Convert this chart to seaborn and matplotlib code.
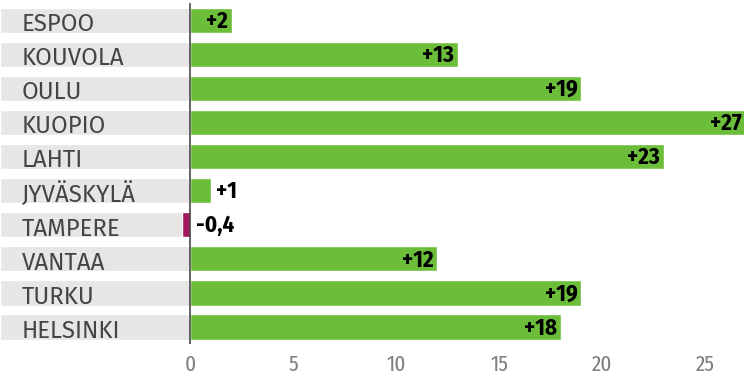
import matplotlib
matplotlib.use("Agg")
import matplotlib.pyplot as plt
import seaborn as sns
import pandas as pd

cities = ["ESPOO", "KOUVOLA", "OULU", "KUOPIO", "LAHTI", "JYVÄSKYLÄ",
          "TAMPERE", "VANTAA", "TURKU", "HELSINKI"]
values = [2, 13, 19, 27, 23, 1, -0.4, 12, 19, 18]
value_labels = ["+2", "+13", "+19", "+27", "+23", "+1", "-0,4", "+12", "+19", "+18"]
xticks = [0, 5, 10, 15, 20, 25]

sns.set_style("white")
plt.rcParams["font.family"] = ["Fira Sans Condensed", "DejaVu Sans"]
CAT_FONT = ["Fira Sans", "DejaVu Sans"]
TICK_FONT = ["Fira Sans Extra Condensed", "Fira Sans Condensed", "DejaVu Sans"]

GREEN = "#6cbd3a"
PURPLE = "#a3195b"
BAND = "#e6e6e6"

df = pd.DataFrame({"city": cities, "value": values})
palette = {c: (GREEN if v >= 0 else PURPLE) for c, v in zip(cities, values)}

fig = plt.figure(figsize=(7.44, 3.87), dpi=100)
ax = fig.add_axes([0, 0.111, 1, 0.881])

XMIN, XMAX = -9.25, 26.9
bar_h = 0.74

# background label bands
ax.barh(range(len(cities)), width=-XMIN, left=XMIN, height=bar_h,
        color=BAND, zorder=0)

sns.barplot(data=df, x="value", y="city", hue="city", palette=palette,
            orient="h", width=bar_h, legend=False, ax=ax, zorder=2,
            saturation=1)

ax.set_xlim(XMIN, XMAX)
ax.set_ylim(len(cities) - 0.5, -0.5)
ax.axvline(0, color="#3a3a3a", lw=1.1, zorder=3)

for i, (c, v, lab) in enumerate(zip(cities, values, value_labels)):
    ax.text(XMIN + 1.05, i + 0.12, c, ha="left", va="center", fontsize=17.3,
            color="#444444", family=CAT_FONT, zorder=4)
    if v >= 2:
        ax.text(v - 0.2, i + 0.03, lab, ha="right", va="center", fontsize=16.5,
                fontweight="bold", color="black", zorder=4)
    else:
        ax.text(max(v, 0) + 0.25, i + 0.03, lab, ha="left", va="center",
                fontsize=16.5, fontweight="bold", color="black", zorder=4)

ax.set_yticks([])
ax.set_ylabel("")
ax.set_xlabel("")
ax.set_xticks(xticks)
ax.set_xticklabels([str(t) for t in xticks], fontsize=16.5, color="#808080",
                   family=TICK_FONT)
ax.tick_params(axis="x", length=0, pad=7)
for s in ax.spines.values():
    s.set_visible(False)

fig.savefig("out.png", dpi=100)
